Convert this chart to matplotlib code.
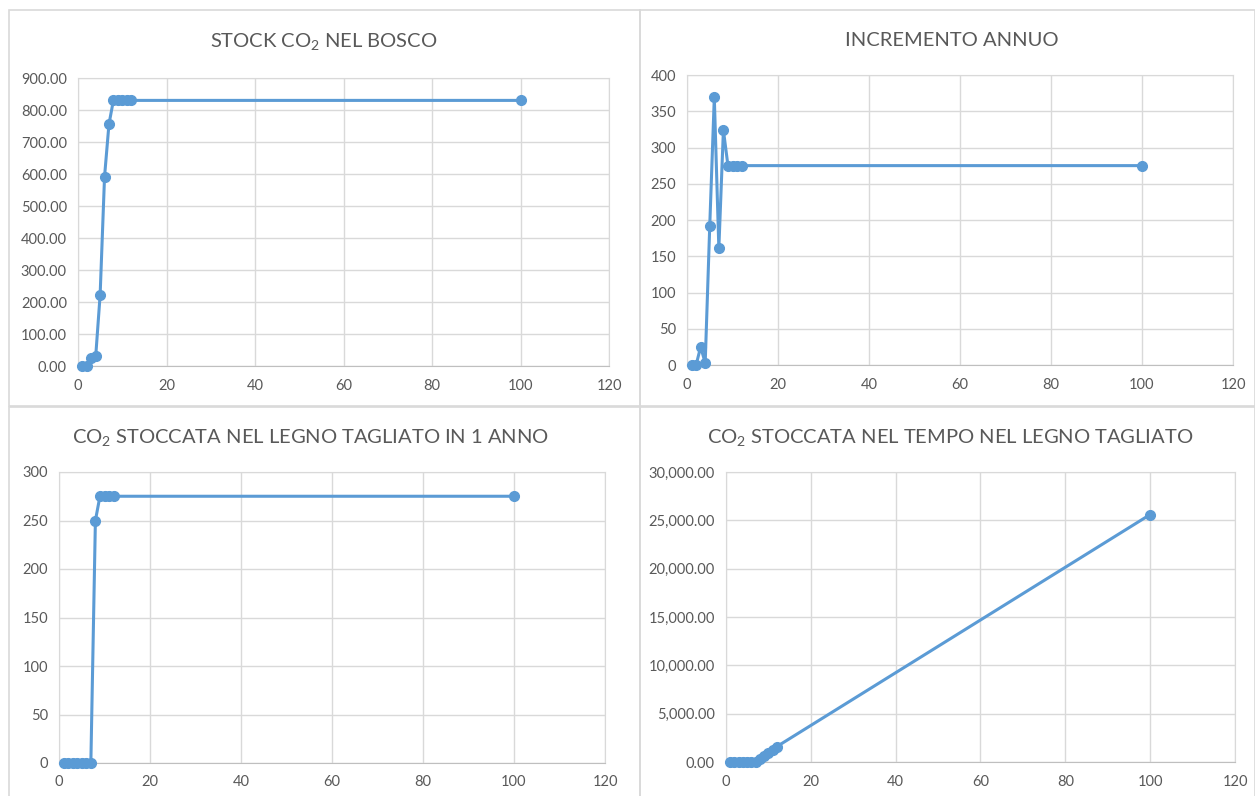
import matplotlib.pyplot as plt
from matplotlib.patches import Rectangle
from matplotlib.ticker import FuncFormatter, MultipleLocator

# ==========================================
# DATA
# ==========================================
ANNI = [1, 2, 3, 4, 5, 6, 7, 8, 9, 10, 11, 12, 100]

STOCK_BOSCO = [0, 0, 25, 30, 222, 592, 756, 830, 830, 830, 830, 830, 830]
INCREMENTO = [0, 0, 25, 3, 192, 369, 161, 324, 275, 275, 275, 275, 275]
LEGNO_1_ANNO = [0, 0, 0, 0, 0, 0, 0, 250, 275, 275, 275, 275, 275]
LEGNO_NEL_TEMPO = [0, 0, 0, 0, 0, 0, 0, 275, 600, 925, 1250, 1600, 25600]

TITOLI = [
    "STOCK CO$_2$ NEL BOSCO",
    "INCREMENTO ANNUO",
    "CO$_2$ STOCCATA NEL LEGNO TAGLIATO IN 1 ANNO",
    "CO$_2$ STOCCATA NEL TEMPO NEL LEGNO TAGLIATO",
]

# ==========================================
# STYLE
# ==========================================
FONT = "Lato"
plt.rcParams['font.family'] = [FONT, 'DejaVu Sans']
plt.rcParams['mathtext.fontset'] = 'custom'
plt.rcParams['mathtext.rm'] = FONT
plt.rcParams['mathtext.it'] = FONT

LINE_COLOR = '#5B9BD5'
TEXT_COLOR = '#595959'
GRID_COLOR = '#D9D9D9'
W, H = 1255, 796

fig = plt.figure(figsize=(W / 100, H / 100), dpi=100)


def px_axes(left, top, right, bottom):
    return fig.add_axes([left / W, 1 - bottom / H, (right - left) / W, (bottom - top) / H])


def draw_panel(box, plot_box, title_xy, title, y, ymax, ystep, fmt):
    # chart frame (excel-like border)
    x0, y0, x1, y1 = box
    fig.patches.append(Rectangle((x0 / W, 1 - y1 / H), (x1 - x0) / W, (y1 - y0) / H,
                                 transform=fig.transFigure, fill=False,
                                 edgecolor=GRID_COLOR, linewidth=1.2))
    ax = px_axes(*plot_box)
    ax.plot(ANNI, y, color=LINE_COLOR, linewidth=2.2, marker='o', markersize=7,
            clip_on=False, zorder=3)
    ax.set_xlim(0, 120)
    ax.set_ylim(0, ymax)
    ax.xaxis.set_major_locator(MultipleLocator(20))
    ax.yaxis.set_major_locator(MultipleLocator(ystep))
    ax.yaxis.set_major_formatter(FuncFormatter(fmt))
    ax.grid(True, color=GRID_COLOR, linewidth=1)
    ax.set_axisbelow(True)
    for s in ax.spines.values():
        s.set_color(GRID_COLOR)
    ax.spines['bottom'].set_color('#BFBFBF')
    ax.tick_params(length=0, labelsize=10.5, labelcolor=TEXT_COLOR)
    ax.tick_params(axis='y', pad=8)
    ax.tick_params(axis='x', pad=9)
    fig.text(title_xy[0] / W, 1 - title_xy[1] / H, title, fontsize=14.5,
             color=TEXT_COLOR, ha='center', va='center')


dec2 = lambda v, p: f"{v:,.2f}"
intf = lambda v, p: f"{v:.0f}"

draw_panel((9, 10, 640, 406), (78, 78, 609, 366), (324, 42), TITOLI[0],
           STOCK_BOSCO, 900, 100, dec2)
draw_panel((640, 10, 1255, 406), (687, 75, 1233, 365), (952, 40), TITOLI[1],
           INCREMENTO, 400, 50, intf)
draw_panel((9, 407, 640, 800), (59, 472, 605, 763), (310, 437), TITOLI[2],
           LEGNO_1_ANNO, 300, 50, intf)
draw_panel((640, 407, 1255, 800), (726, 472, 1235, 762), (950, 437), TITOLI[3],
           LEGNO_NEL_TEMPO, 30000, 5000, dec2)

fig.savefig("out.png", dpi=100)
